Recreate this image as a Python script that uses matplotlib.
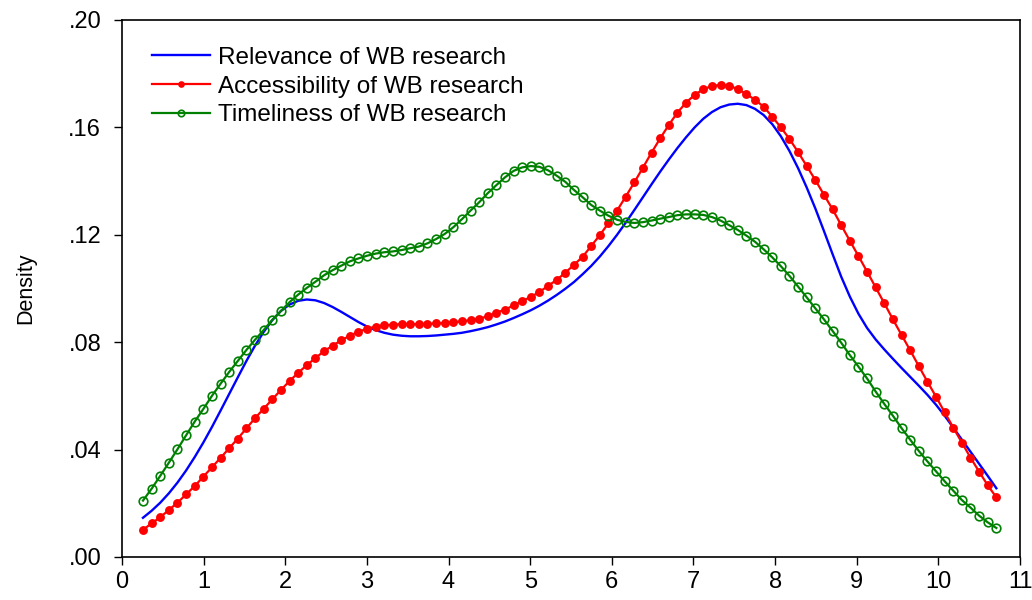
import numpy as np
import matplotlib
matplotlib.use("Agg")
import matplotlib.pyplot as plt
from matplotlib.ticker import FuncFormatter

TICK_FONT = 17
LEGEND_FONT = 17.5
LABEL_FONT = 15.5

# kernel density evaluated on 100 points between min and max
x_grid = np.linspace(0.257, 10.71, 100)

relevance = [
    0.0146, 0.0172, 0.0202, 0.0237, 0.0277, 0.0322, 0.0372, 0.0426, 0.0484, 0.0545,
    0.0607, 0.0669, 0.0730, 0.0787, 0.0838, 0.0882, 0.0916, 0.0940, 0.0954, 0.0959,
    0.0956, 0.0946, 0.0931, 0.0913, 0.0894, 0.0875, 0.0858, 0.0845, 0.0835, 0.0828,
    0.0824, 0.0822, 0.0822, 0.0823, 0.0825, 0.0828, 0.0831, 0.0835, 0.0841, 0.0848,
    0.0856, 0.0866, 0.0877, 0.0890, 0.0904, 0.0919, 0.0936, 0.0955, 0.0976, 0.0999,
    0.1024, 0.1053, 0.1084, 0.1119, 0.1158, 0.1200, 0.1245, 0.1292, 0.1340, 0.1388,
    0.1435, 0.1480, 0.1523, 0.1563, 0.1600, 0.1632, 0.1657, 0.1675, 0.1685, 0.1688,
    0.1683, 0.1669, 0.1646, 0.1612, 0.1567, 0.1512, 0.1448, 0.1376, 0.1298, 0.1214,
    0.1128, 0.1044, 0.0970, 0.0906, 0.0853, 0.0810, 0.0773, 0.0738, 0.0704, 0.0671,
    0.0638, 0.0604, 0.0567, 0.0526, 0.0482, 0.0437, 0.0392, 0.0347, 0.0302, 0.0256,
]

accessibility = [
    0.0101, 0.0125, 0.0148, 0.0175, 0.0202, 0.0233, 0.0264, 0.0299, 0.0334, 0.0369,
    0.0405, 0.0441, 0.0479, 0.0517, 0.0552, 0.0587, 0.0622, 0.0655, 0.0686, 0.0714,
    0.0741, 0.0766, 0.0787, 0.0807, 0.0824, 0.0839, 0.0850, 0.0858, 0.0863, 0.0865,
    0.0867, 0.0867, 0.0867, 0.0868, 0.0870, 0.0871, 0.0874, 0.0878, 0.0882, 0.0888,
    0.0896, 0.0910, 0.0921, 0.0937, 0.0953, 0.0969, 0.0987, 0.1010, 0.1032, 0.1059,
    0.1088, 0.1118, 0.1158, 0.1199, 0.1243, 0.1290, 0.1342, 0.1395, 0.1450, 0.1506,
    0.1559, 0.1609, 0.1655, 0.1692, 0.1721, 0.1742, 0.1754, 0.1758, 0.1755, 0.1743,
    0.1724, 0.1703, 0.1677, 0.1640, 0.1600, 0.1557, 0.1508, 0.1456, 0.1404, 0.1349,
    0.1295, 0.1236, 0.1178, 0.1121, 0.1063, 0.1004, 0.0945, 0.0885, 0.0827, 0.0770,
    0.0711, 0.0653, 0.0597, 0.0539, 0.0482, 0.0426, 0.0370, 0.0318, 0.0267, 0.0222,
]

timeliness = [
    0.0210, 0.0254, 0.0302, 0.0351, 0.0401, 0.0453, 0.0504, 0.0551, 0.0600, 0.0645,
    0.0689, 0.0730, 0.0771, 0.0809, 0.0845, 0.0883, 0.0916, 0.0949, 0.0977, 0.1002,
    0.1025, 0.1049, 0.1068, 0.1085, 0.1101, 0.1112, 0.1122, 0.1130, 0.1135, 0.1138,
    0.1143, 0.1150, 0.1156, 0.1168, 0.1184, 0.1203, 0.1228, 0.1258, 0.1290, 0.1321,
    0.1355, 0.1385, 0.1414, 0.1438, 0.1451, 0.1456, 0.1453, 0.1440, 0.1420, 0.1397,
    0.1367, 0.1340, 0.1311, 0.1290, 0.1271, 0.1256, 0.1248, 0.1244, 0.1247, 0.1253,
    0.1260, 0.1266, 0.1273, 0.1276, 0.1276, 0.1274, 0.1266, 0.1253, 0.1236, 0.1218,
    0.1197, 0.1174, 0.1146, 0.1116, 0.1083, 0.1047, 0.1007, 0.0967, 0.0926, 0.0885,
    0.0842, 0.0798, 0.0752, 0.0709, 0.0665, 0.0616, 0.0570, 0.0526, 0.0480, 0.0437,
    0.0395, 0.0356, 0.0319, 0.0282, 0.0247, 0.0212, 0.0184, 0.0154, 0.0129, 0.0108,
]

x_ticks = list(range(0, 12))
y_ticks = [0.0, 0.04, 0.08, 0.12, 0.16, 0.20]

plt.rcParams['font.family'] = ['Liberation Sans', 'DejaVu Sans']

fig = plt.figure(figsize=(10.32, 6.0), dpi=100)
ax = fig.add_axes([0.1182, 0.0717, 0.8702, 0.895])

ax.plot(x_grid, relevance, color='#0000ff', linewidth=1.7,
        solid_joinstyle='round', label='Relevance of WB research')
ax.plot(x_grid, accessibility, color='#ff0000', linewidth=1.6, marker='o',
        markersize=6.4, markeredgewidth=0, label='Accessibility of WB research')
ax.plot(x_grid, timeliness, color='#008000', linewidth=1.6, marker='o',
        markersize=6.2, markerfacecolor='none', markeredgewidth=1.2,
        label='Timeliness of WB research')

ax.set_xlim(0, 11)
ax.set_ylim(0, 0.20)
ax.set_xticks(x_ticks)
ax.set_yticks(y_ticks)
ax.yaxis.set_major_formatter(FuncFormatter(lambda v, p: ('%.2f' % v)[1:]))
ax.tick_params(axis='y', direction='out', length=6, width=1, right=False,
               labelsize=TICK_FONT, pad=9)
ax.tick_params(axis='x', direction='out', length=6, width=1, top=False,
               labelsize=TICK_FONT, pad=4)
for s in ax.spines.values():
    s.set_linewidth(1.2)
    s.set_color('black')

ax.set_ylabel('Density', fontsize=LABEL_FONT, labelpad=23)

ax.legend(loc='upper left', bbox_to_anchor=(0.033, 0.95), frameon=False,
          borderpad=0, borderaxespad=0,
          handlelength=2.4, handletextpad=0.35, labelspacing=0.28,
          markerscale=0.75, fontsize=LEGEND_FONT)

fig.savefig('out.png', dpi=100)
